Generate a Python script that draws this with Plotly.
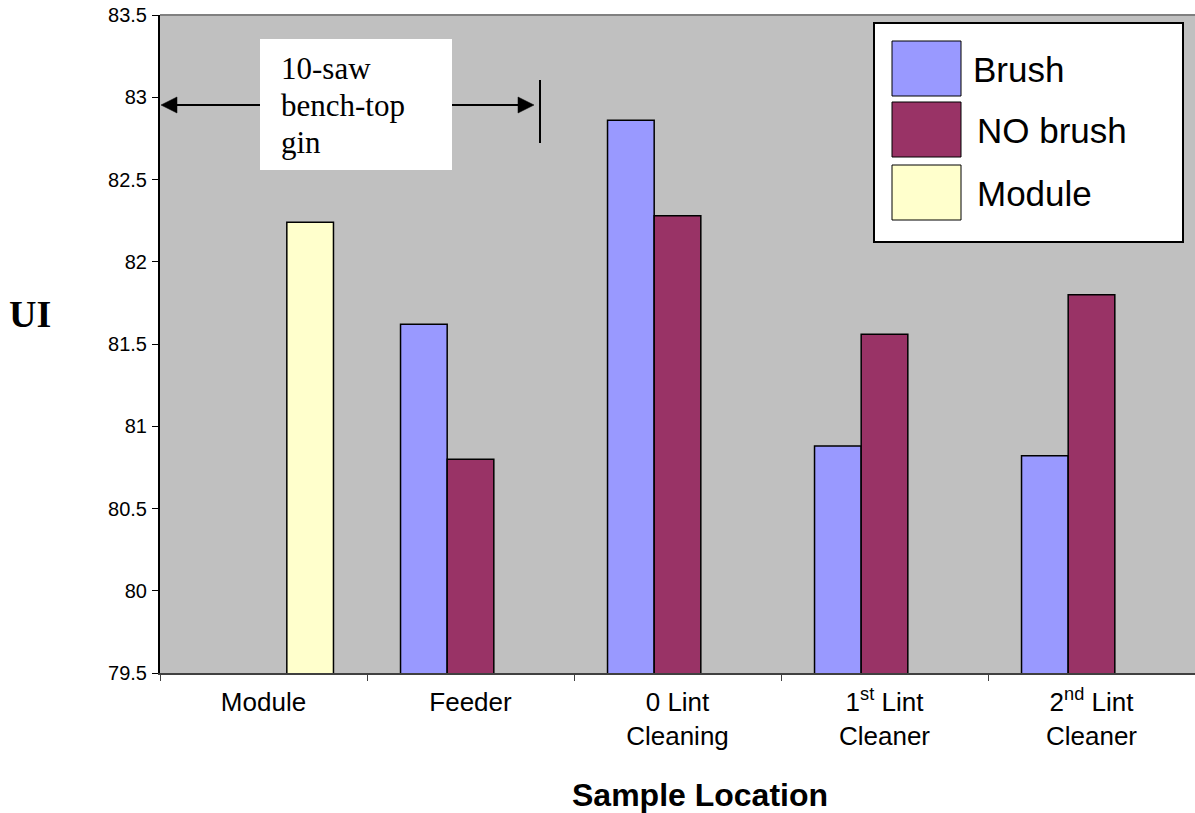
import plotly.graph_objects as go

# Sample locations along the ginning process
categories = [
    "Module",
    "Feeder",
    "0 Lint<br>Cleaning",
    "1<sup>st</sup> Lint<br>Cleaner",
    "2<sup>nd</sup> Lint<br>Cleaner",
]

# Uniformity index (UI) per treatment
brush = [None, 81.62, 82.86, 80.88, 80.82]
no_brush = [None, 80.80, 82.28, 81.56, 81.80]
module = [82.24, None, None, None, None]

series_names = ["Brush", "NO brush", "Module"]
series_colors = ["#9999FF", "#993366", "#FFFFCC"]
series_values = [brush, no_brush, module]

note_lines = ["10-saw", "bench-top", "gin"]

W, H = 1195, 813
L, R, T, B = 160, 0, 15, 140
PW, PH = W - L - R, H - T - B


def px_x(x):
    return (x - L) / PW


def px_y(y):
    return (H - B - y) / PH


def triangle(points):
    # Closed SVG path in paper coordinates from pixel points
    parts = [f"{px_x(x):.5f},{px_y(y):.5f}" for x, y in points]
    return "M " + " L ".join(parts) + " Z"


fig = go.Figure()
for name, color, vals in zip(series_names, series_colors, series_values):
    fig.add_trace(go.Bar(
        x=categories, y=vals, name=name,
        marker=dict(color=color, line=dict(color="black", width=1.5)),
        showlegend=False,
    ))

shapes = []
annotations = []

# Top border of the plot area
shapes.append(dict(type="line", xref="paper", yref="paper", x0=0, x1=1, y0=1, y1=1,
                   line=dict(color="#808080", width=2)))

# Note box: "10-saw bench-top gin"
shapes.append(dict(type="rect", xref="paper", yref="paper",
                   x0=px_x(260), x1=px_x(452), y0=px_y(170), y1=px_y(39),
                   fillcolor="white", line=dict(width=0)))
for line, yc in zip(note_lines, [68, 105, 142]):
    annotations.append(dict(
        xref="paper", yref="paper", x=px_x(279), y=px_y(yc),
        xanchor="left", yanchor="middle", align="left", showarrow=False,
        text=line,
        font=dict(family="Liberation Serif, Times New Roman, serif", size=31, color="black"),
    ))

# Arrows spanning the bench-top gin section
ay = 105
shapes.append(dict(type="line", xref="paper", yref="paper",
                   x0=px_x(172), x1=px_x(260), y0=px_y(ay), y1=px_y(ay),
                   line=dict(color="black", width=2)))
shapes.append(dict(type="path", xref="paper", yref="paper",
                   path=triangle([(161, ay), (177, ay - 8), (177, ay + 8)]),
                   fillcolor="black", line=dict(color="black", width=0.5)))
shapes.append(dict(type="line", xref="paper", yref="paper",
                   x0=px_x(452), x1=px_x(522), y0=px_y(ay), y1=px_y(ay),
                   line=dict(color="black", width=2)))
shapes.append(dict(type="path", xref="paper", yref="paper",
                   path=triangle([(534, ay), (518, ay - 8), (518, ay + 8)]),
                   fillcolor="black", line=dict(color="black", width=0.5)))
shapes.append(dict(type="line", xref="paper", yref="paper",
                   x0=px_x(540), x1=px_x(540), y0=px_y(143), y1=px_y(80),
                   line=dict(color="black", width=2)))

# Legend box
shapes.append(dict(type="rect", xref="paper", yref="paper",
                   x0=px_x(874), x1=px_x(1183), y0=px_y(242), y1=px_y(23),
                   fillcolor="white", line=dict(color="black", width=2)))
swatch_tops = [41, 102, 165]
text_x = [971, 975, 975]
for name, color, top, tx in zip(series_names, series_colors, swatch_tops, text_x):
    shapes.append(dict(type="rect", xref="paper", yref="paper",
                       x0=px_x(892), x1=px_x(961), y0=px_y(top + 55), y1=px_y(top),
                       fillcolor=color, line=dict(color="black", width=1)))
    annotations.append(dict(
        xref="paper", yref="paper", x=px_x(tx), y=px_y(top + 28),
        xanchor="left", yanchor="middle", showarrow=False, text=name,
        font=dict(family="Liberation Sans, Arial, sans-serif", size=35, color="black"),
    ))

# Axis titles
annotations.append(dict(
    xref="paper", yref="paper", x=px_x(30), y=px_y(314),
    xanchor="center", yanchor="middle", showarrow=False, text="<b>UI</b>",
    font=dict(family="Liberation Serif, Times New Roman, serif", size=38, color="black"),
))
annotations.append(dict(
    xref="paper", yref="paper", x=px_x(700), y=px_y(795),
    xanchor="center", yanchor="middle", showarrow=False, text="<b>Sample Location</b>",
    font=dict(family="Liberation Sans, Arial, sans-serif", size=32, color="black"),
))

fig.update_layout(
    width=W, height=H,
    margin=dict(l=L, r=R, t=T, b=B, pad=0),
    paper_bgcolor="white",
    plot_bgcolor="#C0C0C0",
    barmode="group",
    bargap=0.324,
    bargroupgap=0,
    shapes=shapes,
    annotations=annotations,
    xaxis=dict(
        type="category",
        showgrid=False,
        showline=True, linecolor="#404040", linewidth=2,
        ticks="outside", tickson="boundaries", ticklen=6, tickcolor="#404040", tickwidth=1,
        tickfont=dict(family="Liberation Sans, Arial, sans-serif", size=26, color="black"),
        ticklabelstandoff=5,
        zeroline=False,
    ),
    yaxis=dict(
        range=[79.5, 83.5],
        dtick=0.5,
        tick0=79.5,
        showgrid=False,
        zeroline=False,
        showline=True, linecolor="black", linewidth=2,
        ticks="outside", ticklen=6, tickcolor="black", tickwidth=1,
        tickfont=dict(family="Liberation Sans, Arial, sans-serif", size=20, color="black"),
        ticklabelstandoff=1,
    ),
)

fig.write_html("out.html")
